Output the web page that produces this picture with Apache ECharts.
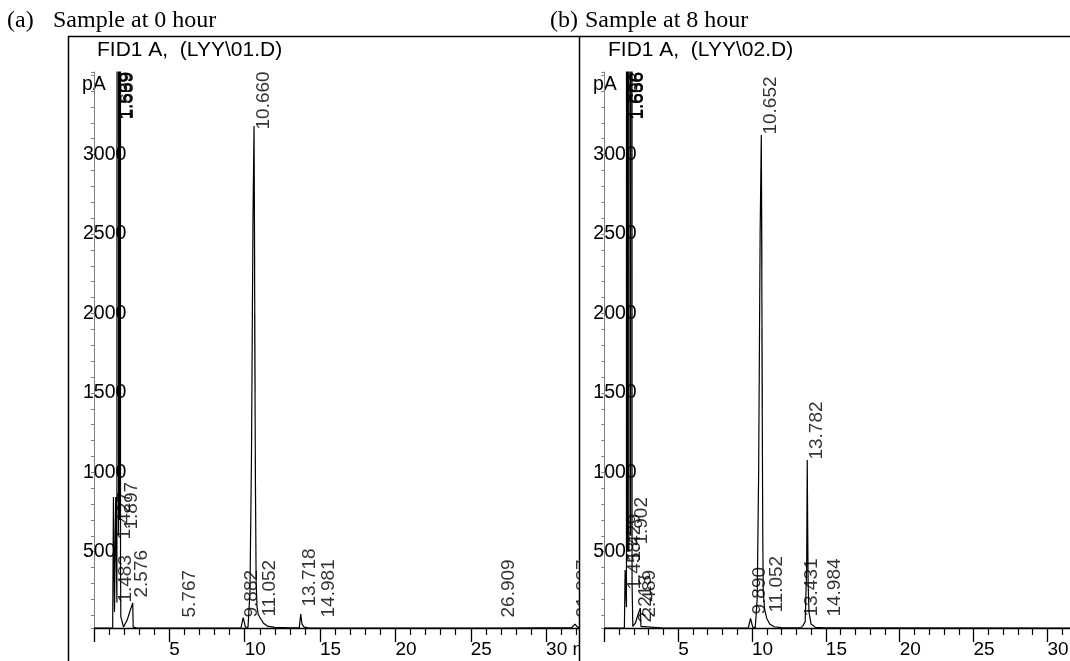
<!DOCTYPE html>
<html><head><meta charset="utf-8">
<script src="https://cdn.jsdelivr.net/npm/echarts@6/dist/echarts.min.js"></script>
<style>
html,body{margin:0;padding:0;background:#fff;width:1070px;height:661px;overflow:hidden}
#a{position:absolute;left:0;top:0;width:579px;height:661px}
#b{position:absolute;left:540px;top:0;width:530px;height:661px}
</style></head><body>
<div id="a"></div><div id="b"></div>
<script>
// ---- data ----
const xTickValues = [5, 10, 15, 20, 25, 30];
const yTickValues = [500, 1000, 1500, 2000, 2500, 3000];

// chromatogram (a): [time min, signal pA]
const traceA = [
  [0, 20], [1.24, 20],
  [1.29, 845], [1.36, 120], [1.44, 845], [1.52, 180],
  [1.60, 40000], [1.63, 600], [1.66, 40000], [1.69, 700], [1.72, 40000], [1.76, 400], [1.78, 91], [1.96, 26],
  [2.20, 70], [2.40, 130], [2.52, 164], [2.57, 177], [2.60, 25], [2.80, 21], [4.0, 20],
  [5.65, 20], [5.77, 32], [5.90, 20], [9.75, 21], [9.90, 85], [10.05, 26], [10.22, 24],
  [10.35, 250], [10.45, 1100], [10.55, 2600], [10.62, 3180], [10.66, 2300], [10.63, 2900], [10.69, 1500],
  [10.66, 2000], [10.72, 800], [10.70, 1100], [10.76, 300],
  [10.82, 150], [10.90, 105], [11.05, 80], [11.25, 50], [11.5, 32], [12.0, 24], [13.0, 21],
  [13.62, 21], [13.72, 108], [13.80, 45], [13.95, 26], [14.2, 21],
  [14.90, 20], [14.99, 27], [15.10, 20], [26.82, 20], [26.92, 26], [27.02, 20],
  [31.70, 22], [31.92, 45], [32.10, 24], [34, 22]
];
// chromatogram (b)
const traceB = [
  [0, 20], [1.36, 20], [1.41, 385], [1.46, 385], [1.50, 150],
  [1.53, 40000], [1.58, 500], [1.62, 40000], [1.67, 500], [1.72, 40000], [1.78, 600], [1.84, 40000],
  [1.88, 300], [1.93, 30], [2.10, 50], [2.30, 110], [2.44, 145], [2.48, 30], [2.60, 21], [4.0, 20],
  [9.75, 21], [9.90, 80], [10.05, 25], [10.22, 22],
  [10.35, 200], [10.45, 1000], [10.55, 2500], [10.63, 3123], [10.67, 2300], [10.64, 2800], [10.70, 1400],
  [10.67, 1900], [10.73, 600], [10.76, 250],
  [10.85, 140], [11.0, 80], [11.2, 45], [11.5, 28], [12.0, 22],
  [13.30, 21], [13.45, 35], [13.60, 60], [13.70, 400], [13.74, 1077], [13.78, 500], [13.75, 900], [13.80, 300], [13.86, 120],
  [14.0, 45], [14.3, 24], [14.90, 21], [14.99, 27], [15.10, 21], [34, 20]
];
// peak labels: [retention time, peak height pA, text]
const peaksA = [
  [1.427, 574, '1.427'], [1.483, 177, '1.483'],
  [1.539, 3218, '1.539'], [1.569, 3218, '1.569'], [1.599, 3218, '1.599'], [1.659, 3218, '1.659'],
  [1.897, 637, '1.897'], [2.576, 209, '2.576'], [5.767, 83, '5.767'], [9.882, 83, '9.882'],
  [10.660, 3155, '10.660'], [11.052, 89, '11.052'], [13.718, 152, '13.718'], [14.981, 83, '14.981'],
  [26.909, 83, '26.909'], [31.887, 83, '31.887']
];
const peaksB = [
  [1.429, 435, '1.429'], [1.458, 259, '1.458'],
  [1.558, 3218, '1.558'], [1.606, 3218, '1.606'], [1.636, 3218, '1.636'], [1.666, 3218, '1.666'],
  [1.902, 542, '1.902'], [2.213, 51, '2.213'], [2.489, 83, '2.489'], [9.890, 102, '9.890'],
  [10.652, 3123, '10.652'], [11.052, 114, '11.052'], [13.431, 89, '13.431'], [13.782, 1077, '13.782'],
  [14.984, 89, '14.984']
];

const FONT = 'Arial, "Liberation Sans", sans-serif';
const SERIF = '"Times New Roman", "Liberation Serif", serif';

function buildOption(p) {
  return {
    animation: false,
    graphic: [
      {type: 'rect', z: 100, silent: true, shape: {x: p.frameX, y: 36.5, width: 900, height: 900},
       style: {fill: 'none', stroke: '#000', lineWidth: 1.5}},
      {type: 'text', x: p.tagX, y: 21, style: {text: p.tag, font: '24px ' + SERIF, fill: '#000', verticalAlign: 'middle', align: 'left'}},
      {type: 'text', x: p.titleX, y: 21, style: {text: p.title, font: '24px ' + SERIF, fill: '#000', verticalAlign: 'middle', align: 'left'}},
      {type: 'text', x: p.fidX, y: 50, style: {text: p.fid, font: '21px ' + FONT, fill: '#000', verticalAlign: 'middle', align: 'left'}},
      {type: 'text', x: p.paX, y: 85, style: {text: 'pA', font: '19.5px ' + FONT, fill: '#000', verticalAlign: 'middle', align: 'left'}}
    ],
    grid: {left: p.gridLeft, top: 72, height: 556, width: p.gridWidth, outerBoundsMode: 'none', containLabel: false},
    xAxis: {
      type: 'value', min: 0, max: 33, interval: 5,
      axisLine: {show: true, lineStyle: {color: '#000', width: 1.3}},
      axisTick: {show: true, length: 14, lineStyle: {color: '#000', width: 1.3}},
      minorTick: {show: true, splitNumber: 5, length: 7, lineStyle: {color: '#000', width: 1.2}},
      splitLine: {show: false}, minorSplitLine: {show: false},
      axisLabel: {margin: 12, align: 'left', fontSize: 19, fontFamily: FONT, color: '#000',
        formatter: v => xTickValues.includes(v) ? (v === 30 ? '30 min' : String(v)) : ''}
    },
    yAxis: {
      type: 'value', min: 20, max: 3520, splitNumber: 35,
      axisLine: {show: true, lineStyle: {color: '#808080', width: 1}},
      axisTick: {show: true, length: 3, lineStyle: {color: '#808080'}},
      splitLine: {show: false},
      axisLabel: {margin: 11, align: 'left', fontSize: 19.5, fontFamily: FONT, color: '#000',
        formatter: v => yTickValues.includes(v) ? String(v) : ''}
    },
    series: [
      {type: 'line', data: p.trace, symbol: 'none', clip: true, z: 2,
       lineStyle: {color: '#000', width: 1.2}},
      {type: 'scatter', silent: true, z: 3, symbolSize: 1, itemStyle: {color: 'rgba(0,0,0,0)'},
       data: p.peaks.map(k => ({value: [k[0], k[1]], name: k[2]})),
       label: {show: true, formatter: '{b}', rotate: 90, position: [9.5, 0], align: 'left', verticalAlign: 'middle',
               fontSize: 19, fontFamily: FONT, color: '#000'}}
    ]
  };
}

const chartA = echarts.init(document.getElementById('a'));
chartA.setOption(buildOption({
  frameX: 68.5, tagX: 7, tag: '(a)', titleX: 53, title: 'Sample at 0 hour',
  fidX: 97, fid: 'FID1 A,  (LYY\\01.D)', paX: 82,
  gridLeft: 94, gridWidth: 33 * 15.07, trace: traceA, peaks: peaksA
}));
const chartB = echarts.init(document.getElementById('b'));
chartB.setOption(buildOption({
  frameX: 39.5, tagX: 10, tag: '(b)', titleX: 45, title: 'Sample at 8 hour',
  fidX: 68, fid: 'FID1 A,  (LYY\\02.D)', paX: 53,
  gridLeft: 64.3, gridWidth: 33 * 14.77, trace: traceB, peaks: peaksB
}));
</script>
</body></html>
